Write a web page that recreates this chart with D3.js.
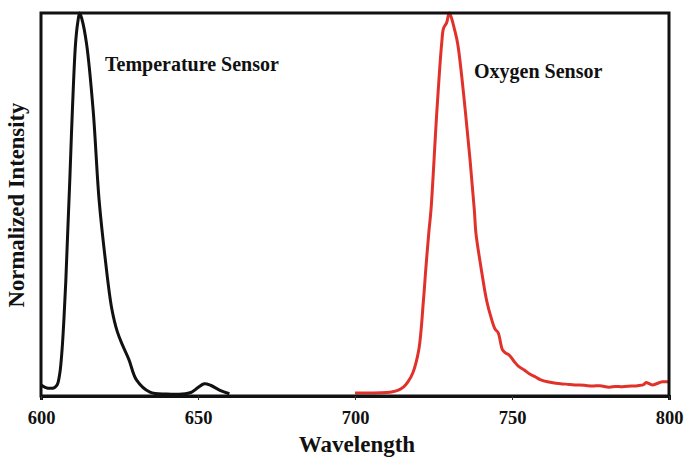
<!DOCTYPE html>
<html>
<head>
<meta charset="utf-8">
<script src="https://cdn.jsdelivr.net/npm/d3@7"></script>
<style>
  body { margin: 0; background: #fff; }
  svg text { font-family: "Liberation Serif", "Times New Roman", serif; font-weight: bold; fill: #111; }
</style>
</head>
<body>
<div id="chart"></div>
<script>
// temperature sensor emission (black)
const tempWavelength = [600, 601.5, 603, 604.3, 605.2, 606, 606.7, 607.3, 607.9, 608.5, 609.2, 610.0, 611.0,
  611.7, 612.3, 613.0, 614.5, 616.6, 618.5, 620.5, 622.5, 624.3, 626.0, 628.0, 630.4, 634.7, 640, 645,
  648, 650, 652, 654, 657, 660];
const tempIntensity = [0.029, 0.022, 0.020, 0.022, 0.03, 0.06, 0.12, 0.2, 0.3, 0.426, 0.57, 0.747, 0.92,
  0.975, 1.0, 0.985, 0.92, 0.747, 0.512, 0.355, 0.23, 0.168, 0.132, 0.095, 0.042, 0.010, 0.005, 0.005,
  0.010, 0.022, 0.032, 0.028, 0.015, 0.006];

// oxygen sensor emission (red)
const oxyWavelength = [700, 705, 710, 712, 714, 715.5, 716.8, 718.4, 720.3, 721.8, 722.6, 723.5, 724.2,
  726.1, 727.6, 728.2, 729.2, 730.0, 730.8, 731.6, 732.7, 735.1, 738.0, 738.5, 740.1, 741.9, 743.3, 744.6,
  745.6, 747.0, 748.0, 749.1, 750.7, 752, 753.9, 755.5, 757.6, 759, 761.3, 764, 767.2, 770, 773, 775.6,
  778, 780.9, 783, 785.1, 788, 790, 792, 792.6, 794.7, 796, 797.9, 800];
const oxyIntensity = [0.008, 0.008, 0.009, 0.011, 0.016, 0.024, 0.036, 0.06, 0.12, 0.25, 0.337, 0.426, 0.486,
  0.747, 0.92, 0.96, 0.975, 1.0, 0.985, 0.96, 0.92, 0.747, 0.486, 0.426, 0.337, 0.25, 0.206, 0.175,
  0.165, 0.12, 0.112, 0.107, 0.09, 0.078, 0.068, 0.058, 0.049, 0.043, 0.037, 0.033, 0.031, 0.029, 0.028, 0.026,
  0.027, 0.023, 0.025, 0.024, 0.026, 0.027, 0.030, 0.035, 0.029, 0.032, 0.037, 0.037];

const xTicks = [600, 650, 700, 750, 800];

const width = 686, height = 458;
const margin = {top: 13, right: 17, bottom: 62, left: 41};

const svg = d3.select('#chart').append('svg')
  .attr('width', width)
  .attr('height', height);

const x = d3.scaleLinear()
  .domain([600, 800])
  .range([margin.left, width - margin.right]);
const y = d3.scaleLinear()
  .domain([0, 1])
  .range([height - margin.bottom, margin.top]);

const line = d3.line()
  .x(d => x(d[0]))
  .y(d => y(d[1]))
  .curve(d3.curveCatmullRom.alpha(0.5));

svg.append('path')
  .datum(d3.zip(tempWavelength, tempIntensity))
  .attr('d', line)
  .attr('fill', 'none')
  .attr('stroke', '#111')
  .attr('stroke-width', 3);

svg.append('path')
  .datum(d3.zip(oxyWavelength, oxyIntensity))
  .attr('d', line)
  .attr('fill', 'none')
  .attr('stroke', '#e0322a')
  .attr('stroke-width', 3);

// frame
svg.append('rect')
  .attr('x', margin.left)
  .attr('y', margin.top)
  .attr('width', width - margin.left - margin.right)
  .attr('height', height - margin.top - margin.bottom)
  .attr('fill', 'none')
  .attr('stroke', '#111')
  .attr('stroke-width', 3);

const xAxis = svg.append('g')
  .attr('transform', `translate(0,${height - margin.bottom})`)
  .call(d3.axisBottom(x).tickValues(xTicks).tickSize(4).tickPadding(11).tickFormat(d3.format('d')));
xAxis.select('.domain').attr('stroke', '#111').attr('stroke-width', 3);
xAxis.selectAll('.tick line').attr('stroke', '#333');
xAxis.selectAll('.tick text')
  .style('font-size', '18.5px');

svg.append('text')
  .attr('x', 357)
  .attr('y', 452)
  .attr('text-anchor', 'middle')
  .style('font-size', '23px')
  .text('Wavelength');

svg.append('text')
  .attr('transform', 'translate(24,205) rotate(-90)')
  .attr('text-anchor', 'middle')
  .style('font-size', '22.7px')
  .text('Normalized Intensity');

svg.append('text')
  .attr('x', 105)
  .attr('y', 71)
  .style('font-size', '20px')
  .text('Temperature Sensor');

svg.append('text')
  .attr('x', 474)
  .attr('y', 78)
  .style('font-size', '20px')
  .text('Oxygen Sensor');
</script>
</body>
</html>
